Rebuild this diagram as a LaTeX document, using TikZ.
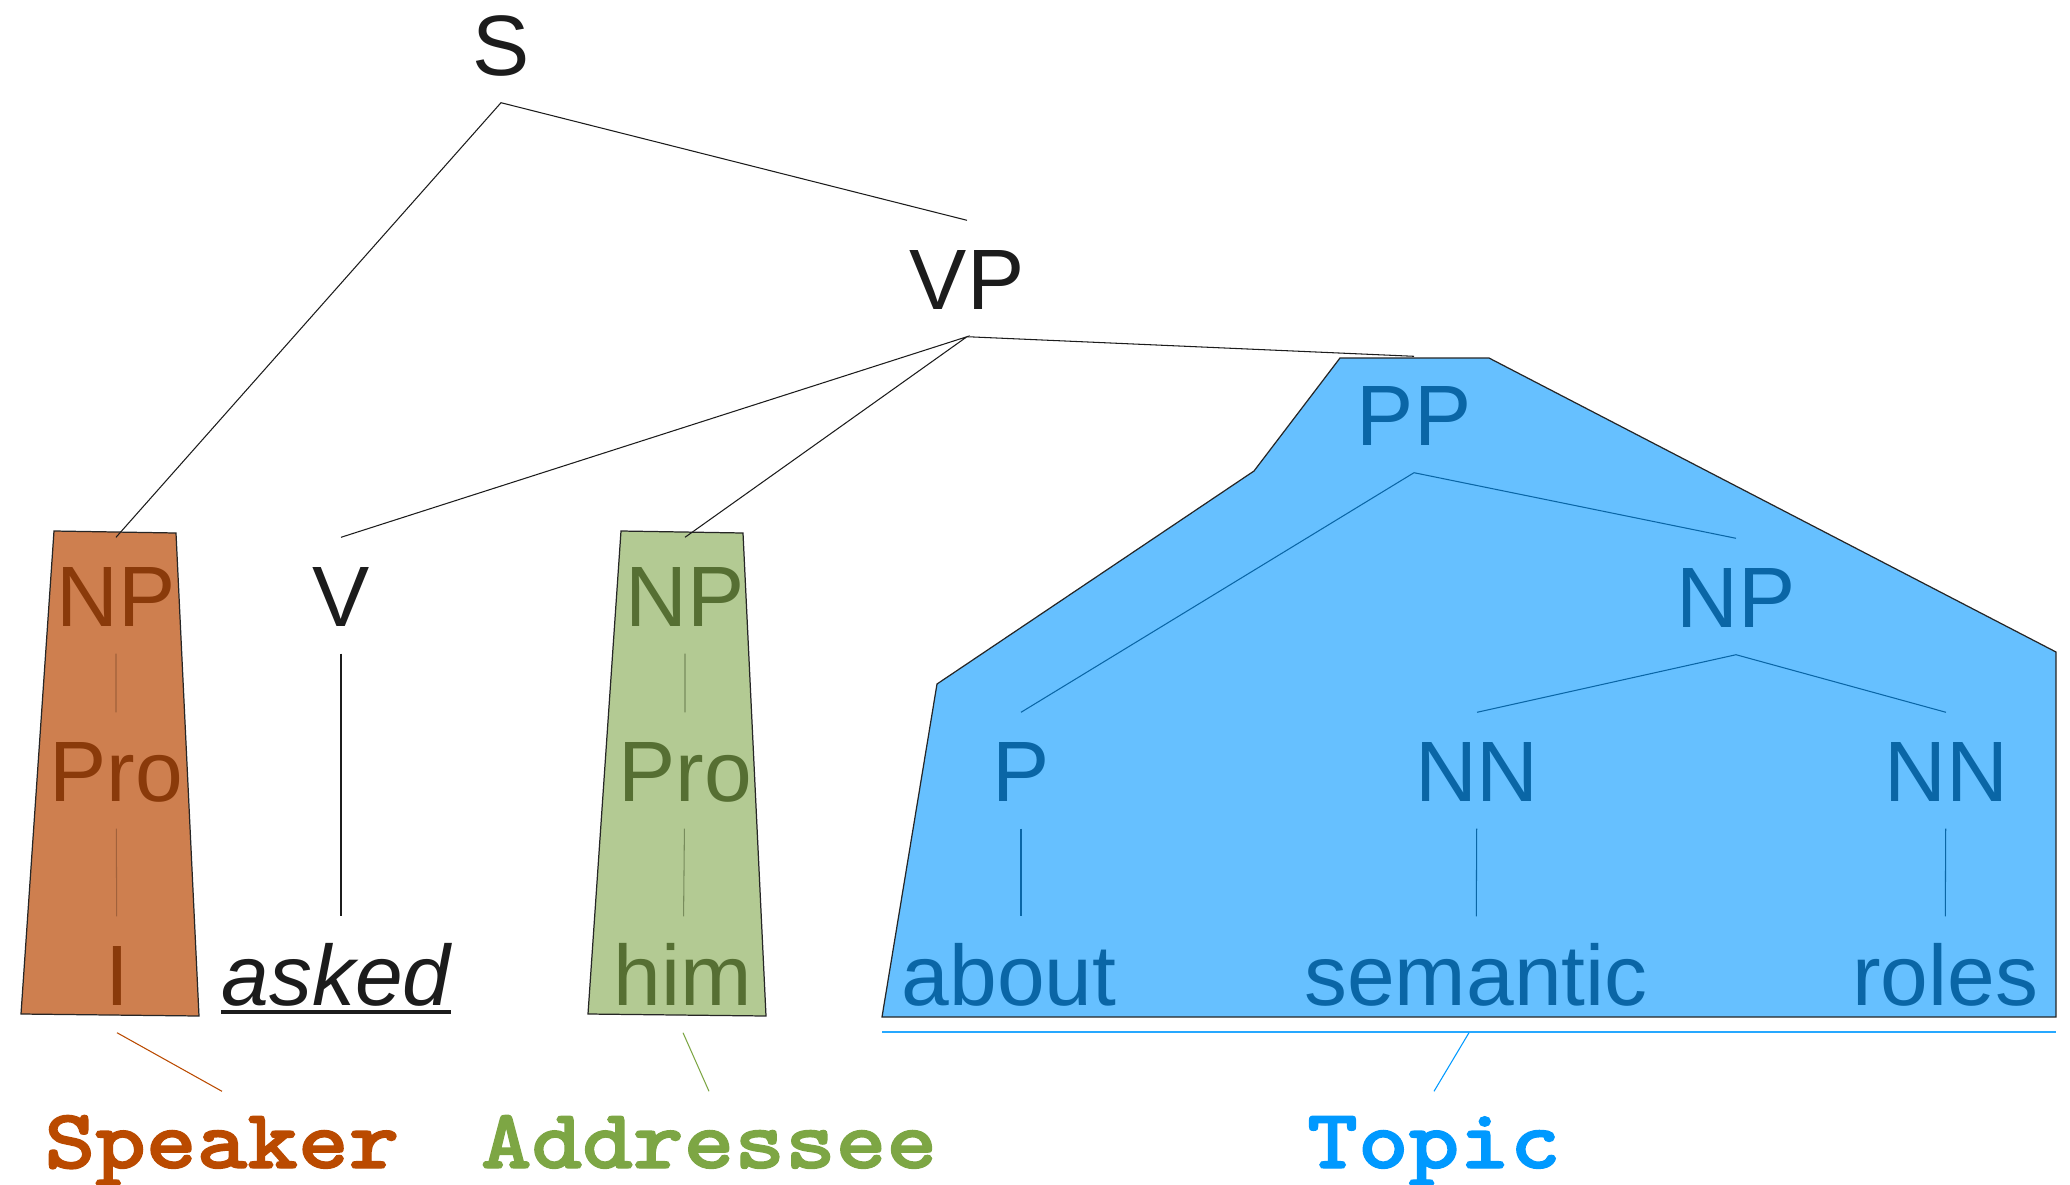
\documentclass[tikz,border=0pt]{standalone}
\usepackage{fontspec}
\setmainfont{Liberation Sans}
\newfontfamily\rolefont[FakeStretch=1.14,FakeBold=1.6]{lmmonolt10-bold.otf}
\usepackage{tikz}
\usetikzlibrary{calc}
\definecolor{ink}{HTML}{1C1C1C}
\definecolor{spkfill}{HTML}{CE7F4F}
\definecolor{spkink}{HTML}{8A3A0A}
\definecolor{spkrole}{HTML}{BA4A00}
\definecolor{adrfill}{HTML}{B3CA93}
\definecolor{adrink}{HTML}{566F33}
\definecolor{adrrole}{HTML}{7DA644}
\definecolor{topfill}{HTML}{66C0FF}
\definecolor{topink}{HTML}{0A66A6}
\definecolor{toprole}{HTML}{0099FF}
\tikzset{
  cat/.style    ={font=\fontsize{24.4}{28}\selectfont, text=ink, anchor=base,
                  inner xsep=0pt, inner ysep=2.7mm, text height=6.1mm, text depth=0pt},
  role/.style   ={font=\rolefont\fontsize{24.1}{28}\selectfont, anchor=base,
                  inner xsep=0pt, inner ysep=2.6mm, text height=5mm, text depth=0pt},
  tree/.style   ={draw=ink, line width=0.3pt},
  spkbox/.style ={fill=spkfill, draw=black!85, line width=0.35pt},
  adrbox/.style ={fill=adrfill, draw=black!85, line width=0.35pt},
  topbox/.style ={fill=topfill, draw=black!85, line width=0.35pt},
  spkline/.style={draw=spkink!80, line width=0.3pt},
  adrline/.style={draw=adrink!80, line width=0.3pt},
  topline/.style={draw=topink, line width=0.3pt},
}

\begin{document}
\begin{tikzpicture}[x=0.1mm,y=-0.1mm]
  \useasboundingbox (0,0) rectangle (2070,1185);
  % shaded constituents
  \filldraw[spkbox] (54,531) -- (176,533) -- (199,1016) -- (21,1014) -- cycle;
  \filldraw[adrbox] (621,531) -- (743,533) -- (766,1016) -- (588,1014) -- cycle;
  \filldraw[topbox] (1340,358) -- (1489,358) -- (2056,652) -- (2056,1017) coordinate (tb-r)
        -- (882,1017) coordinate (tb-l) -- (937,684) -- (1254,471) -- cycle;
  \draw[draw=toprole!85, line width=0.6pt] ($(tb-l)+(0,15)$) -- ($(tb-r)+(0,15)$);

  % categories
  \node[cat] (s)  at (501,75)  {S};
  \node[cat] (vp) at (967,309) {VP};
  \node[cat,text=spkink] (np1)  at (116,626) {NP};
  \node[cat,text=spkink] (pro1) at (116,801) {Pro};
  \node[cat] (v) at (341,626) {V};
  \node[cat,text=adrink] (np2)  at (685,626) {NP};
  \node[cat,text=adrink] (pro2) at (685,801) {Pro};
  \node[cat,text=topink] (pp)  at (1414,445) {PP};
  \node[cat,text=topink] (np3) at (1736,627) {NP};
  \node[cat,text=topink] (p)   at (1021,801) {P};
  \node[cat,text=topink] (nn1) at (1477,801) {NN};
  \node[cat,text=topink] (nn2) at (1946,801) {NN};

  % words
  \node[cat,text=spkink] (w-i) at (117,1005) {I};
  \node[cat,font=\fontsize{24.4}{28}\selectfont\itshape] (w-asked) at (336,1005) {asked};
  \draw[ink, line width=0.4mm] ($(w-asked.base west)+(0,7)$) -- ($(w-asked.base east)+(0,7)$);
  \node[cat,text=adrink] (w-him) at (683,1005) {him};
  \node[cat,text=topink] (w-about) at (1009,1005) {about};
  \node[cat,text=topink] (w-sem)   at (1476,1005) {semantic};
  \node[cat,text=topink] (w-roles) at (1945,1005) {roles};

  % branches
  \draw[tree] (np1.north) -- (s.south) -- (vp.north);
  \draw[tree] (v.north) -- (vp.south) -- (np2.north);
  \draw[tree] (vp.south) -- (pp.north);
  \draw[tree] (v.south) -- (v.south |- w-asked.north);
  \draw[spkline] (np1) -- (pro1) (pro1) -- (w-i);
  \draw[adrline] (np2) -- (pro2) (pro2) -- (w-him);
  \draw[topline] (p.north) -- (pp.south) -- (np3.north);
  \draw[topline] (nn1.north) -- (np3.south) -- (nn2.north);
  \draw[topline] (p.south) -- (p.south |- w-about.north);
  \draw[topline] (nn1) -- (w-sem) (nn2) -- (w-roles);

  % roles
  \node[role,text=spkrole] (speaker)   at (222,1168)  {Speaker};
  \node[role,text=adrrole] (addressee) at (709,1168)  {Addressee};
  \node[role,text=toprole] (topic)     at (1434,1168) {Topic};
  \draw[draw=spkrole, line width=0.3pt] (w-i.south) -- (speaker.north);
  \draw[draw=adrrole, line width=0.3pt] (w-him.south) -- (addressee.north);
  \draw[draw=toprole, line width=0.3pt] ($(w-sem.south)+(-7,0)$) -- (topic.north);
\end{tikzpicture}
\end{document}
